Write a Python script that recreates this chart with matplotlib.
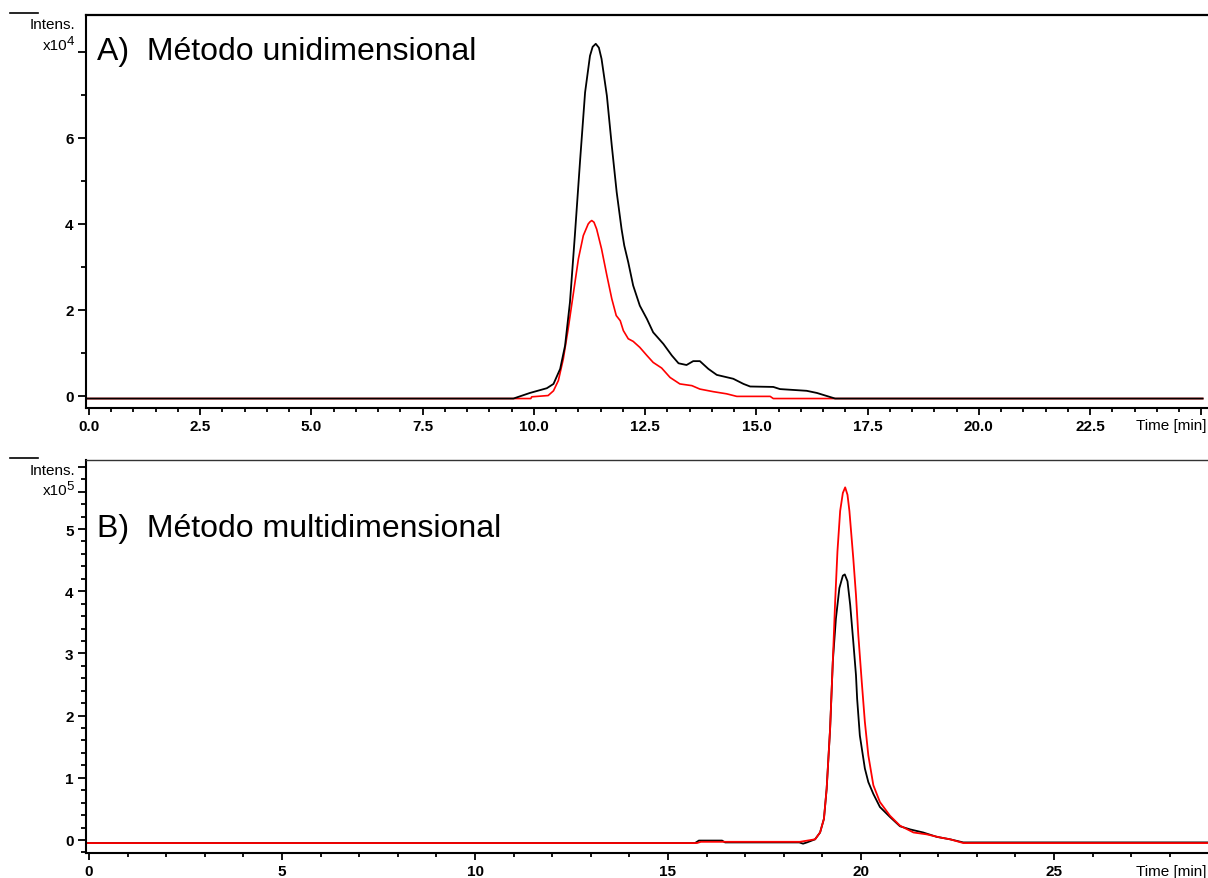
import matplotlib
matplotlib.use("Agg")
import matplotlib.pyplot as plt
from matplotlib.ticker import FixedLocator, MultipleLocator

plt.rcParams['font.family'] = ['Liberation Sans', 'DejaVu Sans']

# ---------------- data ----------------
# Panel A: one-dimensional method (intensity in units of 1e4)
a_time_black = [-0.05, 9.54, 9.91, 10.29, 10.44, 10.59, 10.70, 10.81, 10.92, 11.04, 11.15,
                11.26, 11.32, 11.39, 11.46, 11.52, 11.64, 11.75, 11.86, 11.97, 12.03, 12.12, 12.23,
                12.38, 12.54, 12.68, 12.91, 13.10, 13.25, 13.43, 13.58, 13.73, 13.92,
                14.11, 14.48, 14.71, 14.86, 15.38, 15.53, 16.13, 16.36, 16.58, 16.77, 25.03]
a_int_black = [-0.06, -0.06, 0.07, 0.18, 0.28, 0.63, 1.17, 2.18, 3.73, 5.51, 7.06,
               7.91, 8.12, 8.19, 8.10, 7.84, 6.98, 5.82, 4.74, 3.88, 3.50, 3.11, 2.57,
               2.10, 1.79, 1.48, 1.21, 0.94, 0.76, 0.72, 0.81, 0.81, 0.63,
               0.49, 0.40, 0.28, 0.22, 0.21, 0.16, 0.12, 0.07, 0.00, -0.06, -0.06]

a_time_red = [-0.05, 9.93, 9.95, 10.32, 10.44, 10.55, 10.66, 10.77, 10.89, 11.00, 11.11,
              11.22, 11.26, 11.30, 11.35, 11.41, 11.52, 11.64, 11.75, 11.85, 11.94, 12.01, 12.12,
              12.23, 12.38, 12.54, 12.68, 12.87, 13.06, 13.28, 13.55, 13.73, 14.03,
              14.33, 14.56, 15.31, 15.38, 25.03]
a_int_red = [-0.06, -0.06, -0.02, 0.01, 0.12, 0.36, 0.86, 1.56, 2.41, 3.19, 3.73,
             4.00, 4.05, 4.08, 4.04, 3.88, 3.42, 2.80, 2.26, 1.87, 1.75, 1.52, 1.33,
             1.27, 1.13, 0.94, 0.78, 0.65, 0.43, 0.28, 0.24, 0.16, 0.10,
             0.05, -0.01, -0.01, -0.06, -0.06]

# Panel B: multidimensional method (intensity in units of 1e5)
b_time_black = [-0.05, 15.70, 15.80, 16.40, 16.48, 18.40, 18.50, 18.60, 18.81, 18.94, 19.04,
                19.11, 19.20, 19.27, 19.35, 19.44, 19.53, 19.58, 19.65, 19.72, 19.80,
                19.87, 19.90, 19.97, 20.10, 20.19, 20.32, 20.49, 20.75, 21.01, 21.27,
                21.61, 21.96, 22.31, 22.65, 28.99]
b_int_black = [-0.05, -0.05, -0.01, -0.01, -0.04, -0.04, -0.06, -0.04, 0.01, 0.12, 0.34,
               0.82, 1.79, 2.87, 3.56, 4.05, 4.25, 4.27, 4.16, 3.78, 3.19,
               2.65, 2.27, 1.68, 1.15, 0.93, 0.74, 0.53, 0.37, 0.22, 0.17,
               0.12, 0.05, 0.01, -0.04, -0.04]

b_time_red = [-0.05, 15.75, 15.85, 18.42, 18.81, 18.94, 19.04, 19.11, 19.20, 19.27, 19.33,
              19.39, 19.46, 19.53, 19.59, 19.65, 19.70, 19.80, 19.87, 19.93, 20.02, 20.10, 20.19,
              20.32, 20.49, 20.75, 21.01, 21.36, 21.70, 22.05, 22.31, 22.65, 28.99]
b_int_red = [-0.05, -0.05, -0.03, -0.03, 0.01, 0.12, 0.34, 0.82, 1.79, 2.87, 3.83,
             4.64, 5.29, 5.58, 5.67, 5.55, 5.29, 4.53, 3.94, 3.30, 2.54, 1.90, 1.36,
             0.88, 0.61, 0.39, 0.23, 0.12, 0.09, 0.04, 0.01, -0.05, -0.05]

# tick values and labels
a_xticks = [0, 2.5, 5.0, 7.5, 10.0, 12.5, 15.0, 17.5, 20.0, 22.5, 25.0]
a_xlabels = ["0.0", "2.5", "5.0", "7.5", "10.0", "12.5", "15.0", "17.5", "20.0", "22.5", ""]
a_yticks = [0, 2, 4, 6, 8]
a_ylabels = ["0", "2", "4", "6", ""]
b_xticks = [0, 5, 10, 15, 20, 25]
b_xlabels = ["0", "5", "10", "15", "20", "25"]
b_yticks = [0, 1, 2, 3, 4, 5, 5.6, 6.0]
b_ylabels = ["0", "1", "2", "3", "4", "5", "", ""]

title_a = "A)  Método unidimensional"
title_b = "B)  Método multidimensional"

# ---------------- figure ----------------
W, H = 1208, 879
fig = plt.figure(figsize=(W / 100, H / 100), dpi=100)


def fx(px):
    return px / W


def fy(py):
    return 1 - py / H


def style_axes(ax, top_lw, top_color):
    ax.spines['right'].set_visible(False)
    ax.spines['top'].set_linewidth(top_lw)
    ax.spines['top'].set_color(top_color)
    ax.spines['left'].set_linewidth(1.5)
    ax.spines['bottom'].set_linewidth(1.5)
    ax.tick_params(which='major', direction='out', length=5, width=1.3,
                   labelsize=11, pad=3)
    ax.tick_params(which='minor', direction='out', length=3, width=1.3)
    ax.tick_params(axis='y', which='major', length=6)
    ax.tick_params(axis='y', which='minor', length=3.5)
    ax.tick_params(top=False, right=False)
    for lab in ax.get_xticklabels() + ax.get_yticklabels():
        lab.set_fontweight('bold')


# Panel A
axA = fig.add_axes([fx(86), fy(409), fx(W - 86), (409 - 16) / H])
axA.plot(a_time_red, a_int_red, color='#ff0000', lw=1.2)
axA.plot(a_time_black, a_int_black, color='black', lw=1.3)
axA.set_xlim(-0.067, 25.15)
axA.set_ylim(-0.28, 8.86)
axA.xaxis.set_major_locator(FixedLocator(a_xticks))
axA.set_xticklabels(a_xlabels)
axA.xaxis.set_minor_locator(MultipleLocator(0.5))
axA.yaxis.set_major_locator(FixedLocator(a_yticks))
axA.set_yticklabels(a_ylabels)
axA.yaxis.set_minor_locator(FixedLocator([1, 3, 5, 7]))
style_axes(axA, 1.6, 'black')

# Panel B
axB = fig.add_axes([fx(86), fy(854), fx(W - 86), (854 - 461) / H])
axB.plot(b_time_black, b_int_black, color='black', lw=1.3)
axB.plot(b_time_red, b_int_red, color='#ff0000', lw=1.3)
axB.set_xlim(-0.078, 28.99)
axB.set_ylim(-0.21, 6.11)
axB.xaxis.set_major_locator(FixedLocator(b_xticks))
axB.set_xticklabels(b_xlabels)
axB.xaxis.set_minor_locator(MultipleLocator(1))
axB.yaxis.set_major_locator(FixedLocator(b_yticks))
axB.set_yticklabels(b_ylabels)
axB.yaxis.set_minor_locator(MultipleLocator(0.2))
style_axes(axB, 1.0, '#333333')

# axis captions: "Intens." with a short bar above and the power-of-ten factor
for ax_top, lab_y, exp_y, exp_txt in [(14, 25, 46, "4"), (459, 471, 491, "5")]:
    fig.add_artist(plt.Line2D([fx(10), fx(38)], [fy(ax_top), fy(ax_top)],
                              color='black', lw=1.2))
    fig.text(fx(75), fy(lab_y), "Intens.", ha='right', va='center', fontsize=11)
    fig.text(fx(67), fy(exp_y), "x10", ha='right', va='center', fontsize=11)
    fig.text(fx(66.5), fy(exp_y - 4), exp_txt, ha='left', va='center', fontsize=9.5)

fig.text(fx(1207), fy(426), "Time [min]", ha='right', va='center', fontsize=11)
fig.text(fx(1207), fy(872), "Time [min]", ha='right', va='center', fontsize=11)

# panel titles
fig.text(fx(97), fy(60), title_a, ha='left', va='baseline', fontsize=23)
fig.text(fx(97), fy(537), title_b, ha='left', va='baseline', fontsize=23)

fig.savefig("out.png", dpi=100)
